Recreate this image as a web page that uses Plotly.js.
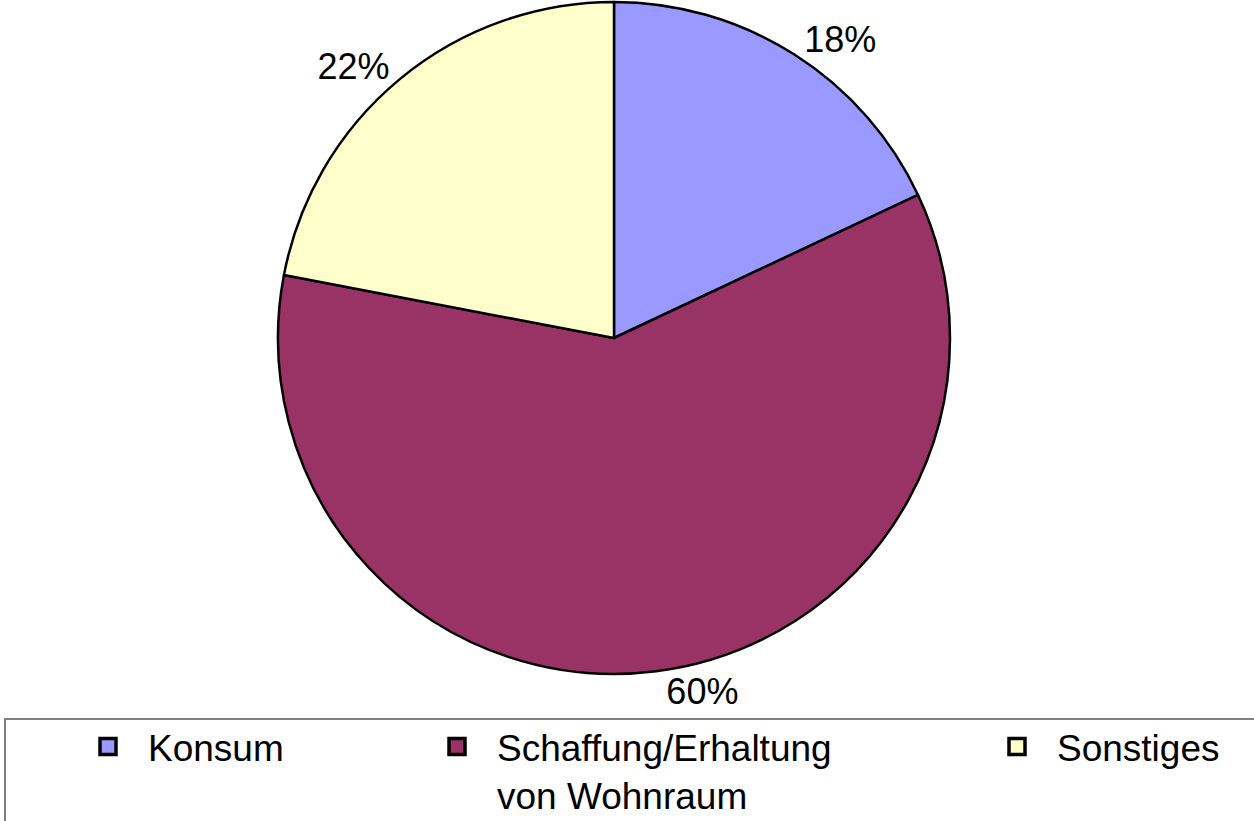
<!DOCTYPE html>
<html>
<head>
<meta charset="utf-8">
<script src="https://cdn.plot.ly/plotly-3.0.1.min.js"></script>
<style>
html,body{margin:0;padding:0;background:#fff;overflow:hidden;}
#chart{width:1254px;height:821px;}
</style>
</head>
<body>
<div id="chart"></div>
<script>
// ---- data ----
const categories = ["Konsum", "Schaffung/Erhaltung von Wohnraum", "Sonstiges"];
const legendLabels = ["Konsum", "Schaffung/Erhaltung<br>von Wohnraum", "Sonstiges"];
const shares = [18, 60, 22];
const sliceColors = ["#9999FF", "#993366", "#FFFFCC"];

const FONT = "Liberation Sans, Arial, sans-serif";
const W = 1254, H = 821;

const pie = {
  type: "pie",
  labels: categories,
  values: shares,
  sort: false,
  direction: "clockwise",
  rotation: 0,
  marker: { colors: sliceColors, line: { color: "#000000", width: 2.5 } },
  textinfo: "percent",
  texttemplate: "%{percent:.0%}",
  textposition: "outside",
  outsidetextfont: { family: FONT, size: 36, color: "#000000" },
  showlegend: false,
  hoverinfo: "label+percent",
  domain: { x: [214 / W, 1014 / W], y: [1 - 674 / H, 1 - 2 / H] }
};

// legend-only entries, one per category, each in its own legend box
const legendIds = ["legend", "legend2", "legend3"];
const legendTraces = categories.map((c, i) => ({
  type: "scatter",
  mode: "markers",
  x: [null], y: [null],
  name: legendLabels[i],
  legend: legendIds[i],
  showlegend: true,
  hoverinfo: "skip",
  marker: { symbol: "square", size: 16, color: sliceColors[i], line: { color: "#000000", width: 3.5 } }
}));

const textStarts = [148, 497, 1057];
const ITEMW = 70;
function legendCfg(i) {
  return {
    x: (textStarts[i] - ITEMW - 10) / W,
    xanchor: "left",
    y: 1 - 716 / H,
    yanchor: "top",
    orientation: "v",
    valign: "top",
    itemwidth: ITEMW,
    bgcolor: "rgba(0,0,0,0)",
    borderwidth: 0,
    font: { family: FONT, size: 37, color: "#000000" },
    itemclick: false,
    itemdoubleclick: false
  };
}

const layout = {
  width: W, height: H,
  margin: { l: 0, r: 0, t: 0, b: 0, autoexpand: false },
  paper_bgcolor: "#ffffff",
  plot_bgcolor: "#ffffff",
  font: { family: FONT, size: 36, color: "#000000" },
  xaxis: { visible: false },
  yaxis: { visible: false },
  legend: legendCfg(0),
  legend2: legendCfg(1),
  legend3: legendCfg(2),
  shapes: [{
    type: "rect", xref: "paper", yref: "paper",
    x0: 5 / W, x1: 1.01, y0: -0.05, y1: 1 - 719 / H,
    line: { color: "#808080", width: 2 }, fillcolor: "rgba(0,0,0,0)", layer: "below"
  }]
};

Plotly.newPlot("chart", [pie].concat(legendTraces), layout, { displayModeBar: false, staticPlot: true });
</script>
</body>
</html>
